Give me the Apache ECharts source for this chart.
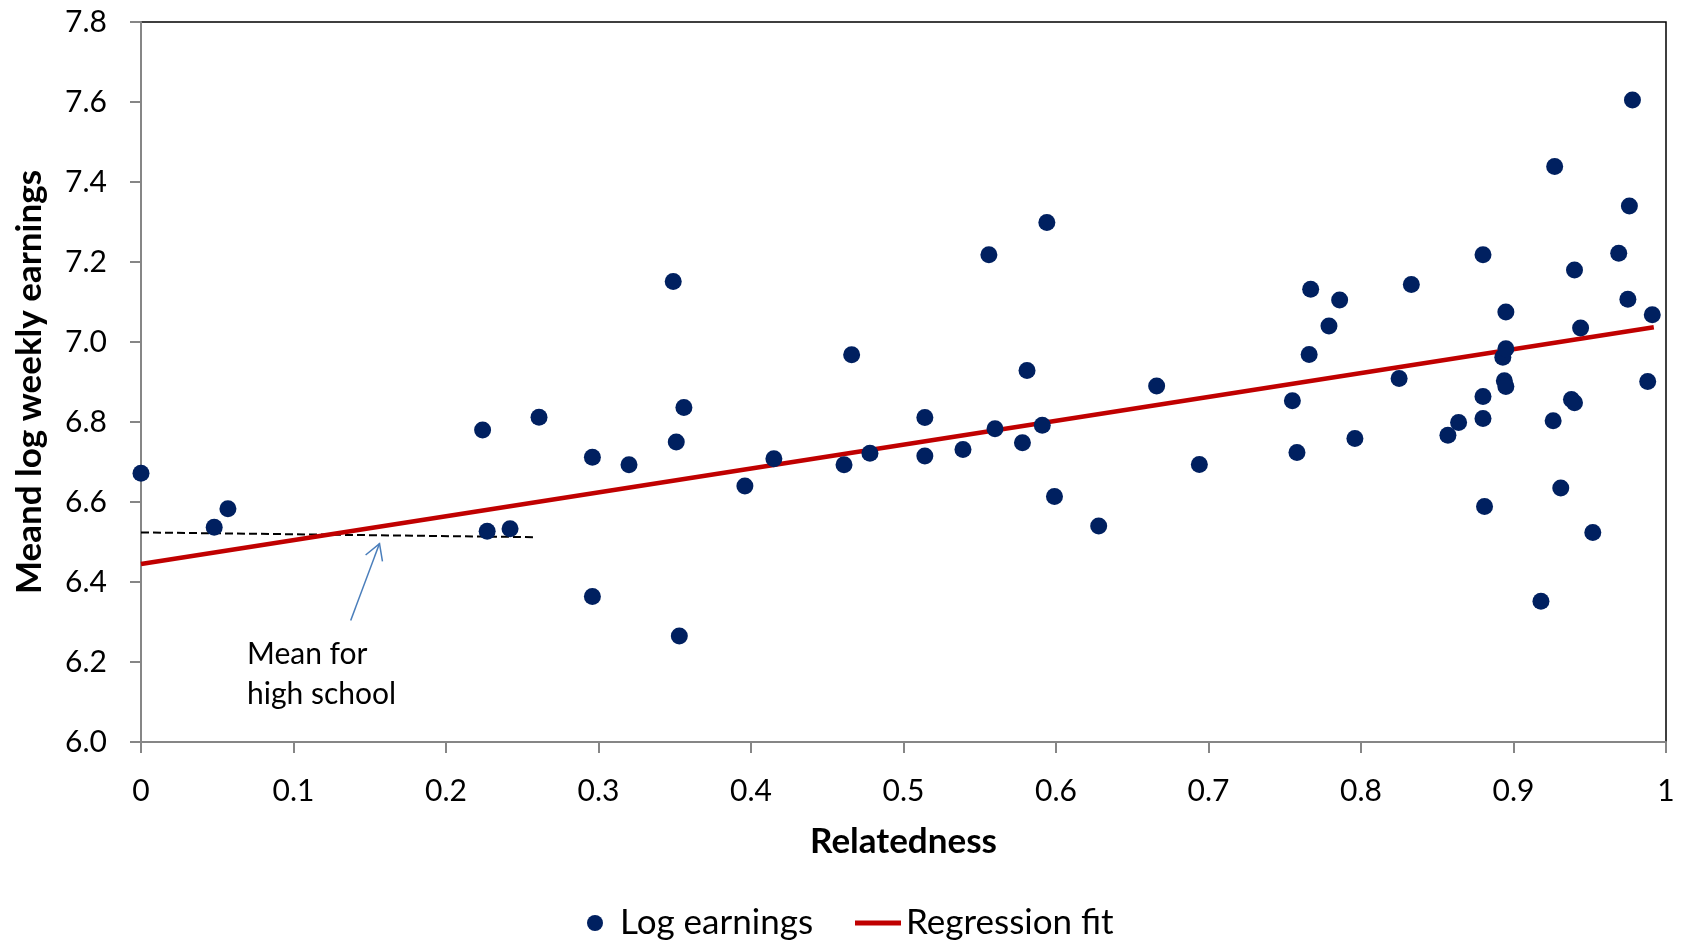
<!DOCTYPE html>
<html>
<head>
<meta charset="utf-8">
<title>Relatedness and earnings</title>
<script src="https://cdn.jsdelivr.net/npm/echarts@6/dist/echarts.min.js"></script>
<style>
  html, body { margin: 0; padding: 0; background: #ffffff; }
  #chart { width: 1684px; height: 944px; }
</style>
</head>
<body>
<div id="chart"></div>
<script>
// Field-by-field observations: relatedness share vs mean log weekly earnings
const relatedness = [
  0.000, 0.048, 0.057, 0.224, 0.227, 0.242, 0.261, 0.296, 0.296, 0.320,
  0.349, 0.351, 0.356, 0.353, 0.396, 0.415, 0.461, 0.466, 0.478, 0.514,
  0.514, 0.539, 0.556, 0.560, 0.578, 0.581, 0.591, 0.594, 0.599, 0.628,
  0.666, 0.694, 0.755, 0.758, 0.766, 0.767, 0.779, 0.786, 0.796, 0.825,
  0.833, 0.857, 0.864, 0.880, 0.880, 0.880, 0.881, 0.893, 0.895, 0.894,
  0.895, 0.895, 0.918, 0.926, 0.927, 0.931, 0.938, 0.940, 0.940, 0.944,
  0.952, 0.969, 0.976, 0.975, 0.978, 0.988, 0.991
];
const logEarnings = [
  6.672, 6.537, 6.583, 6.780, 6.527, 6.533, 6.812, 6.712, 6.364, 6.693,
  7.151, 6.750, 6.836, 6.265, 6.640, 6.708, 6.693, 6.968, 6.722, 6.811,
  6.715, 6.731, 7.218, 6.783, 6.748, 6.929, 6.792, 7.299, 6.614, 6.540,
  6.890, 6.694, 6.853, 6.724, 6.969, 7.132, 7.040, 7.105, 6.759, 6.909,
  7.144, 6.767, 6.799, 7.218, 6.864, 6.809, 6.589, 6.962, 6.983, 6.903,
  6.889, 7.075, 6.352, 6.803, 7.439, 6.635, 6.856, 6.848, 7.180, 7.035,
  6.524, 7.222, 7.340, 7.107, 7.605, 6.901, 7.068
];

// Fitted regression line (end points)
const fitX = [0, 0.992];
const fitY = [6.445, 7.037];

// Mean log earnings for high school graduates
const hsMeanX = [0, 0.259];
const hsMeanY = [6.524, 6.512];

// Annotation arrow (tail -> head) and its note, in data units
const arrowTail = [0.1375, 6.304];
const arrowHead = [0.1564, 6.496];
const noteAnchor = [0.0695, 6.268];
const noteLines = ['Mean for', 'high school'];

// Axis ticks
const xTicks = [0, 0.1, 0.2, 0.3, 0.4, 0.5, 0.6, 0.7, 0.8, 0.9, 1];
const yTicks = [6.0, 6.2, 6.4, 6.6, 6.8, 7.0, 7.2, 7.4, 7.6, 7.8];

const FONT = 'Lato, "Open Sans", "DejaVu Sans", sans-serif';

const scatterData = relatedness.map((x, i) => [x, logEarnings[i]]);
const fitData = fitX.map((x, i) => [x, fitY[i]]);
const hsData = hsMeanX.map((x, i) => [x, hsMeanY[i]]);

const chart = echarts.init(document.getElementById('chart'), null, { renderer: 'canvas' });

const legendText = { fontFamily: FONT, fontSize: 35, color: '#000000', lineHeight: 36 };

const option = {
  backgroundColor: '#ffffff',
  animation: false,
  textStyle: { fontFamily: FONT },
  grid: {
    left: 141, right: 18, top: 22, bottom: 202,
    show: true, borderColor: '#000000', borderWidth: 1.5, backgroundColor: 'transparent'
  },
  legend: [
    {
      data: [{ name: 'Log earnings', icon: 'circle' }],
      left: 582, top: 900,
      itemWidth: 40, itemHeight: 16, itemGap: 0,
      textStyle: legendText,
      selectedMode: false
    },
    {
      data: [{ name: 'Regression fit', icon: 'rect' }],
      left: 850, top: 900,
      itemWidth: 46, itemHeight: 5, itemGap: 0,
      itemStyle: { color: '#c00000' },
      textStyle: legendText,
      selectedMode: false
    }
  ],
  xAxis: {
    type: 'value',
    min: xTicks[0], max: xTicks[xTicks.length - 1], interval: 0.1,
    name: 'Relatedness', nameLocation: 'middle', nameGap: 82,
    nameTextStyle: { fontFamily: FONT, fontSize: 35, fontWeight: 'bold', color: '#000000' },
    axisLine: { onZero: false, lineStyle: { color: '#868686', width: 2 } },
    axisTick: { show: true, length: 11, lineStyle: { color: '#868686', width: 2 } },
    axisLabel: {
      margin: 34, fontFamily: FONT, fontSize: 30, color: '#000000',
      formatter: v => String(xTicks[Math.round(v * 10)])
    },
    splitLine: { show: false }
  },
  yAxis: {
    type: 'value',
    min: yTicks[0], max: yTicks[yTicks.length - 1], interval: 0.2,
    name: 'Meand log weekly earnings', nameLocation: 'middle', nameGap: 94,
    nameTextStyle: { fontFamily: FONT, fontSize: 35, fontWeight: 'bold', color: '#000000' },
    axisLine: { show: true, lineStyle: { color: '#868686', width: 2 } },
    axisTick: { show: true, length: 11, lineStyle: { color: '#868686', width: 2 } },
    axisLabel: {
      margin: 34, fontFamily: FONT, fontSize: 30, color: '#000000',
      formatter: v => v.toFixed(1)
    },
    splitLine: { show: false }
  },
  series: [
    {
      name: 'High school mean',
      type: 'line',
      data: hsData,
      symbol: 'none',
      lineStyle: { color: '#000000', width: 2, type: [8, 4] },
      z: 3,
      silent: true
    },
    {
      name: 'Regression fit',
      type: 'line',
      data: fitData,
      symbol: 'none',
      itemStyle: { color: '#c00000' },
      lineStyle: { color: '#c00000', width: 4.5 },
      z: 4,
      silent: true
    },
    {
      name: 'Log earnings',
      type: 'scatter',
      data: scatterData,
      symbol: 'circle',
      symbolSize: 17,
      itemStyle: { color: '#002060', opacity: 1 },
      z: 5
    },
    {
      name: 'Note',
      type: 'custom',
      data: [[arrowTail[0], arrowTail[1], arrowHead[0], arrowHead[1]]],
      encode: { x: [0, 2], y: [1, 3] },
      z: 6,
      silent: true,
      renderItem: function (params, api) {
        const t = api.coord([api.value(0), api.value(1)]);
        const h = api.coord([api.value(2), api.value(3)]);
        const ang = Math.atan2(t[1] - h[1], t[0] - h[0]);
        const wing = 18, spread = Math.PI / 6;
        const w1 = [h[0] + wing * Math.cos(ang - spread), h[1] + wing * Math.sin(ang - spread)];
        const w2 = [h[0] + wing * Math.cos(ang + spread), h[1] + wing * Math.sin(ang + spread)];
        const n = api.coord(noteAnchor);
        const stroke = { stroke: '#4a7ebb', lineWidth: 1.5, fill: null };
        return {
          type: 'group',
          children: [
            { type: 'line', shape: { x1: t[0], y1: t[1], x2: h[0], y2: h[1] }, style: stroke },
            { type: 'polyline', shape: { points: [w1, h, w2] }, style: stroke },
            {
              type: 'text',
              x: n[0], y: n[1],
              style: {
                text: noteLines.join('\n'),
                font: '30px ' + FONT,
                fill: '#000000',
                lineHeight: 40,
                align: 'left',
                verticalAlign: 'top'
              }
            }
          ]
        };
      }
    }
  ]
};

chart.setOption(option);
</script>
</body>
</html>
